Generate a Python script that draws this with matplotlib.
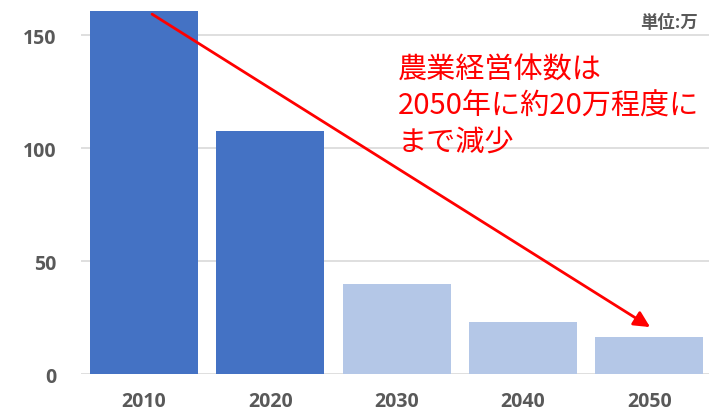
import matplotlib
matplotlib.use("Agg")
import matplotlib.pyplot as plt

# 農業経営体数（万）
years = ["2010", "2020", "2030", "2040", "2050"]
counts = [168, 107.6, 40, 23, 16.5]
is_actual = [True, True, False, False, False]
yticks = [0, 50, 100, 150]

dark_blue = "#4472C4"
light_blue = "#B4C7E7"
grid_gray = "#D9D9D9"
text_gray = "#595959"

fig = plt.figure(figsize=(7.09, 4.14), dpi=100)
ax = fig.add_axes([81 / 709, 38.7 / 414, 628 / 709, 363.3 / 414])

x = list(range(len(years)))
colors = [dark_blue if a else light_blue for a in is_actual]
ax.bar(x, counts, width=0.855, color=colors, zorder=2)

ax.set_xlim(-0.5, -0.5 + 628 / 126.3)
ax.set_ylim(0, 160.8)
ax.set_yticks(yticks)
ax.set_xticks(x)
ax.set_xticklabels(years)

for s in ax.spines.values():
    s.set_visible(False)
ax.yaxis.grid(True, color=grid_gray, linewidth=1.2, zorder=0)
ax.tick_params(axis="both", length=0, colors=text_gray)
ax.tick_params(axis="y", pad=18)
ax.tick_params(axis="x", pad=12)
for lab in ax.get_xticklabels() + ax.get_yticklabels():
    lab.set_fontfamily("Open Sans")
    lab.set_fontweight("bold")
    lab.set_fontsize(14)

# 減少傾向を示す矢印
ax.annotate("", xy=(4.006, 20.9), xytext=(0.063, 159.4),
            arrowprops=dict(arrowstyle="-|>", color="#FF0000", lw=2.0,
                            mutation_scale=24, shrinkA=0, shrinkB=0),
            annotation_clip=False, zorder=5)

fig.text(398 / 709, 1 - 56 / 414,
         "農業経営体数は\n2050年に約20万程度に\nまで減少",
         color="#FF0000", fontsize=21, family=["Noto Sans CJK JP", "DejaVu Sans"],
         ha="left", va="top", linespacing=1.26)

fig.text(698 / 709, 1 - 23 / 414, "単位:万", color=text_gray, fontsize=12.5,
         fontweight="bold", family=["Noto Sans CJK JP", "DejaVu Sans"],
         ha="right", va="center")

fig.savefig("out.png", dpi=100)
